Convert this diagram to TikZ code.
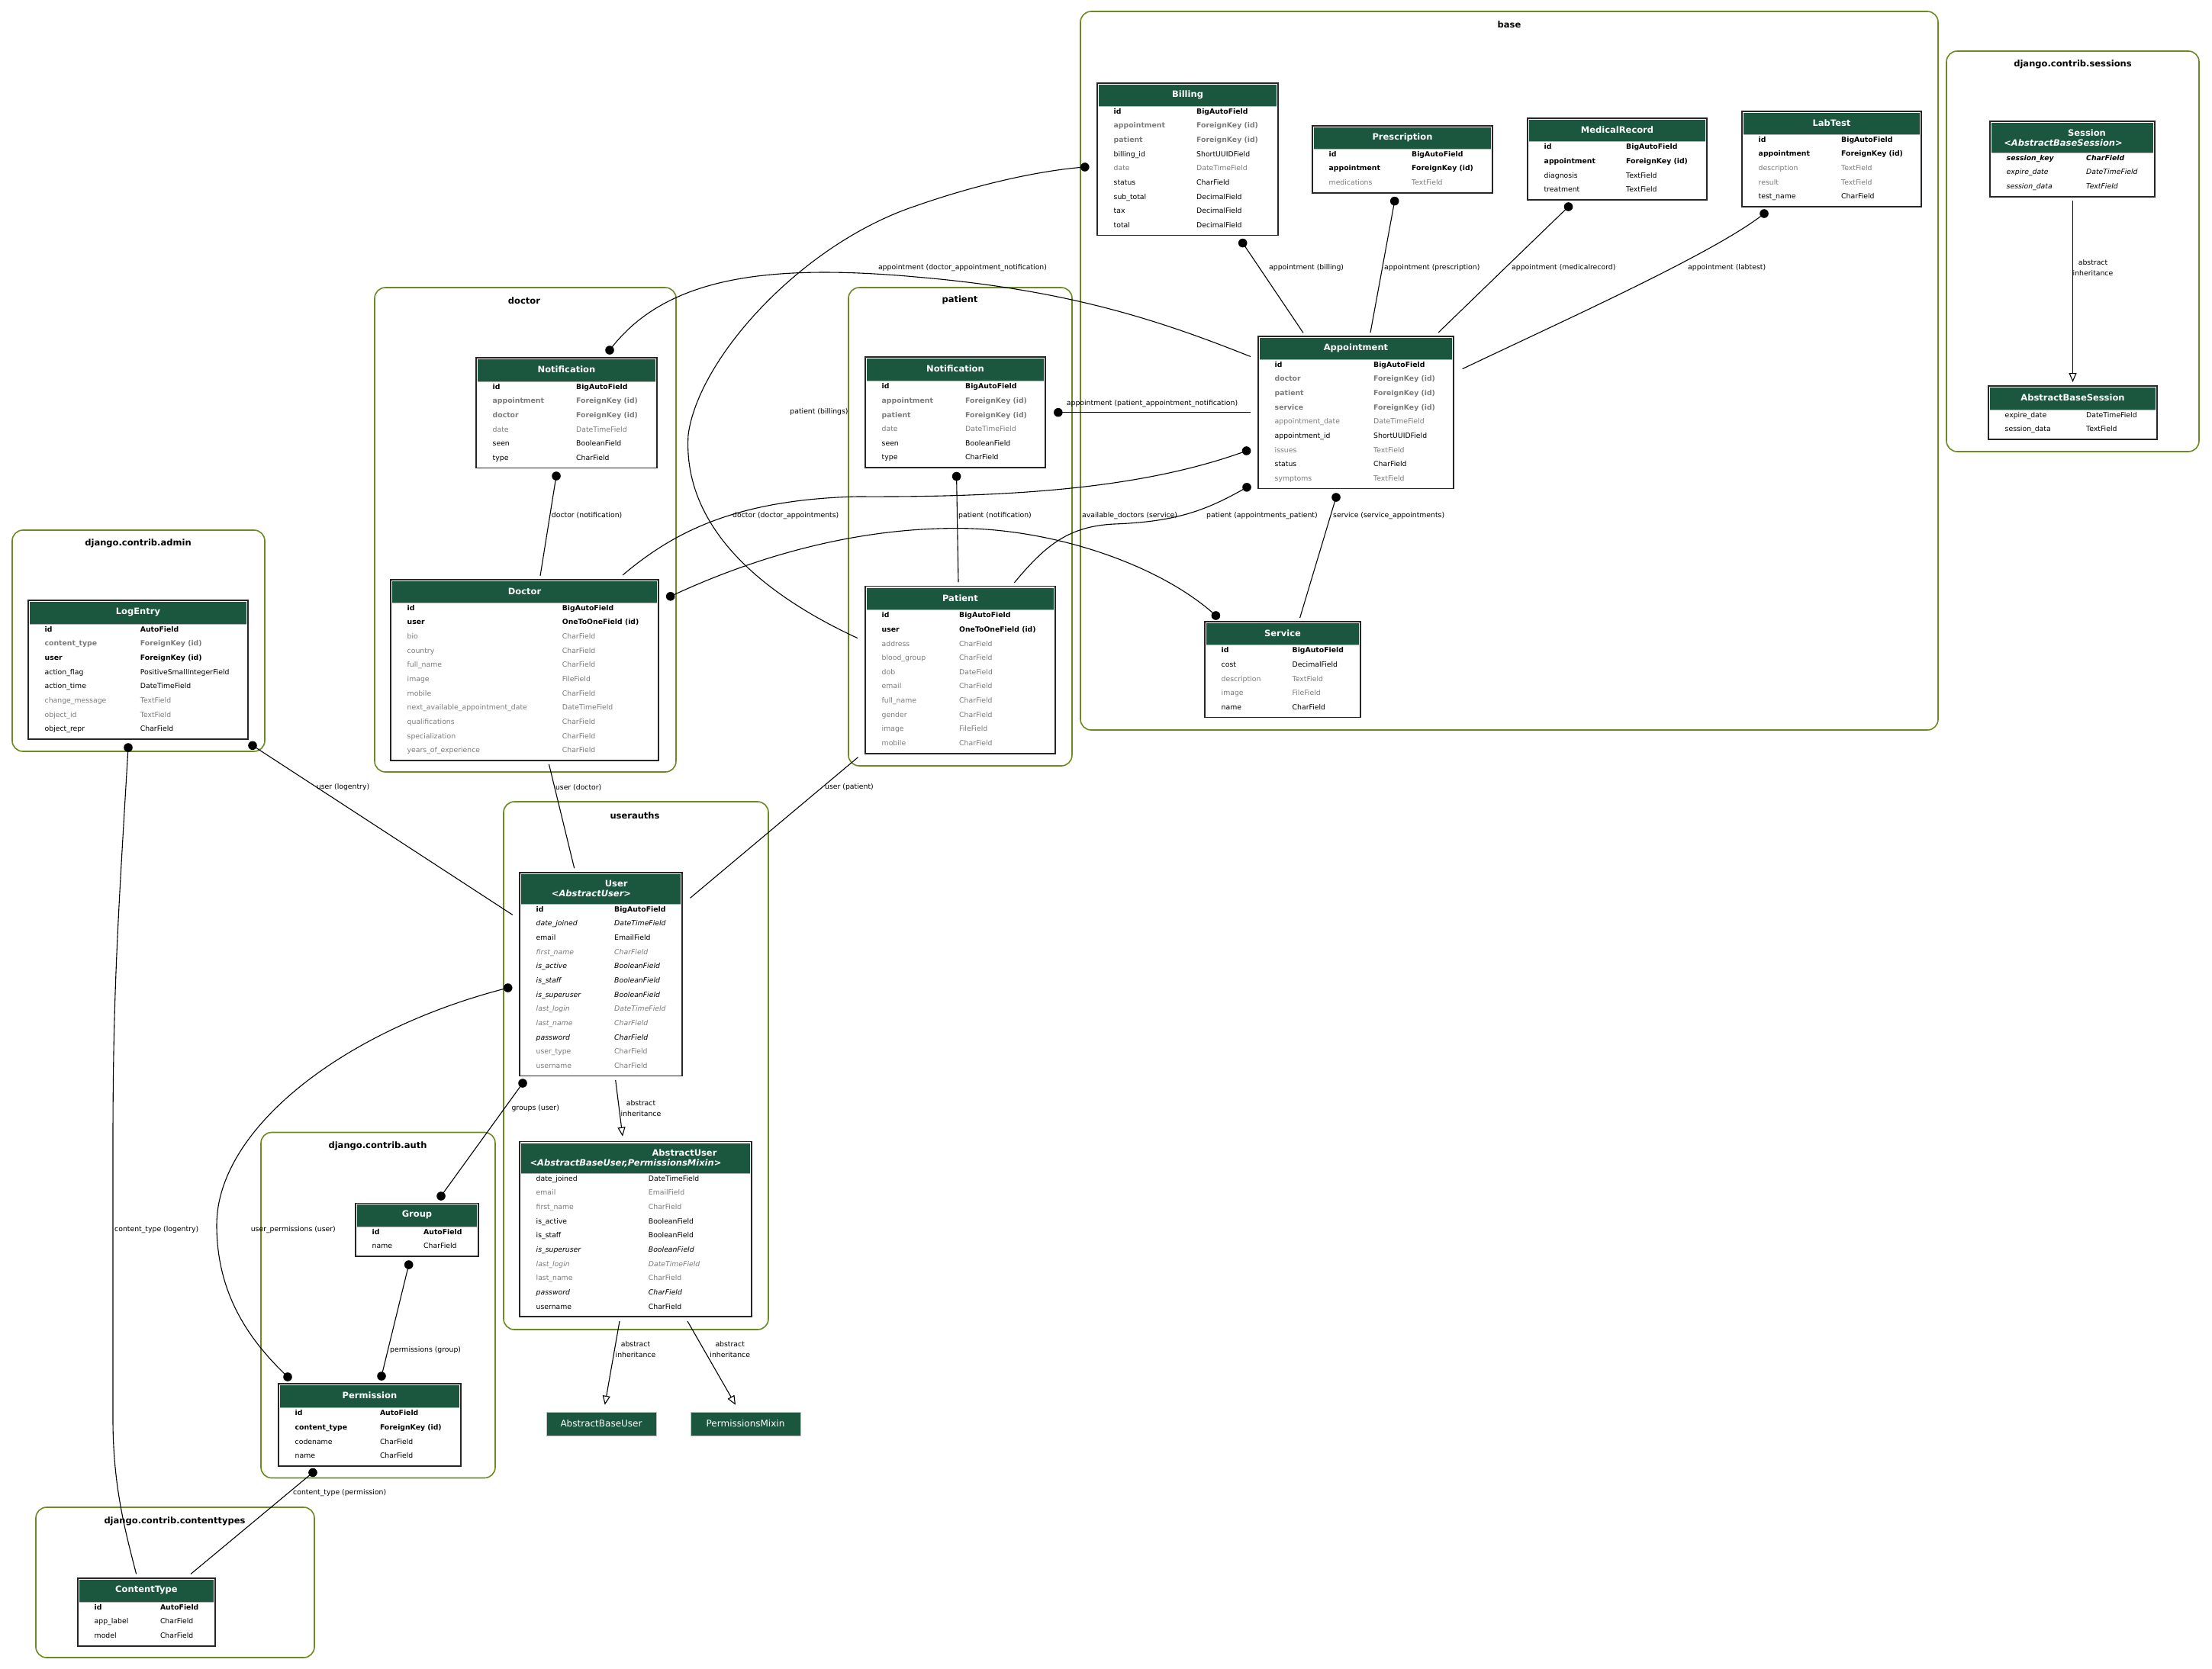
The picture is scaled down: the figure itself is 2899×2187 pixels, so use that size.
\documentclass[tikz,border=0pt]{standalone}
\usepackage{fontspec}
\setmainfont{DejaVu Sans}
\usetikzlibrary{arrows.meta,fit}
\definecolor{hdr}{HTML}{1B563F}
\definecolor{clu}{HTML}{698B22}
\definecolor{fgray}{HTML}{7B7B7B}
\newcommand\fsz{\fontsize{9.3}{11}\selectfont}
\newcommand\zN{}
\newcommand\zG{\color{fgray}}
\newcommand\zB{\bfseries}
\newcommand\zBG{\bfseries\color{fgray}}
\newcommand\zI{\itshape}
\newcommand\zIG{\itshape\color{fgray}}
\newcommand\zBI{\bfseries\itshape}
% #1 name, #2 xl, #3 xr, #4 ytop, #5 header h, #6 type x, #7 n rows, #8 rows, #9 title
\newcommand{\mtab}[9]{%
  \pgfmathsetmacro{\hbot}{#4+#5}%
  \pgfmathsetmacro{\tbot}{#4+#5+18.65*#7+1.75}%
  \node[tblbox, fit={(#2,#4) (#3,\tbot)}] (#1) {};
  \fill[hdr] (#2+2,#4+2) rectangle (#3-2,\hbot);
  \draw[gray!60, line width=0.6pt] (#2+2,\hbot) -- (#3-2,\hbot);
  \node[ttl] at ({(#2+#3)/2},{#4+15.5}) {#9};
  \foreach \st/\fa/\fb [count=\i from 0] in {#8} {
    \pgfmathsetmacro{\yy}{\hbot+7.7+18.65*\i}
    \node[fld] at (#2+21.5,\yy) {\st\fa};
    \node[fld] at (#6,\yy) {\st\fb};
  }
}
\begin{document}
\begin{tikzpicture}[x=1pt,y=-1pt,
  tblbox/.style={draw=black!85, line width=1.6pt, fill=white, inner sep=0pt},
  fld/.style={anchor=west, inner sep=0pt, font=\fsz, text height=7pt, text depth=2pt},
  ttl/.style={text=white, font=\fontsize{11.5}{13}\selectfont\bfseries, inner sep=0pt},
  ttli/.style={text=white, font=\fontsize{11.5}{13}\selectfont\bfseries\itshape, inner sep=0pt},
  clus/.style={draw=clu, line width=1.6pt, rounded corners=14pt, inner sep=0pt},
  cll/.style={font=\fontsize{11.5}{13}\selectfont\bfseries, inner sep=0pt},
  conn/.style={line width=1.1pt, draw=black},
  inh/.style={line width=1.1pt, draw=black, -{Triangle[open,length=12pt,width=10pt]}},
  elab/.style={font=\fsz, inner sep=0pt, anchor=west},
  elabc/.style={font=\fontsize{9.3}{13.5}\selectfont, inner sep=0pt, align=center},
  plainbox/.style={fill=hdr, draw=gray!50, line width=0.8pt, text=white, font=\fontsize{12}{14}\selectfont, inner sep=0pt, minimum width=144pt, minimum height=31pt}
]
\fill[white] (0,0) rectangle (2899,2187);
\useasboundingbox (0,0) rectangle (2899,2187);

% ---------- clusters ----------
\node[clus, fit={(1416,15) (2540,957)}] (clbase) {};
\node[cll] (clbasel) at (1978,32) {base};
\node[clus, fit={(2551,67) (2882,592)}] (clses) {};
\node[cll] (clsesl) at (2716.5,84) {django.contrib.sessions};
\node[clus, fit={(491,377) (886,1012)}] (cldoc) {};
\node[cll] (cldocl) at (687,394) {doctor};
\node[clus, fit={(1112,377) (1405,1004)}] (clpat) {};
\node[cll] (clpatl) at (1258,393) {patient};
\node[clus, fit={(16,695) (347,985)}] (cladm) {};
\node[cll] (cladml) at (181,712) {django.contrib.admin};
\node[clus, fit={(660,1051) (1007,1743)}] (clua) {};
\node[cll] (clual) at (832,1069) {userauths};
\node[clus, fit={(342,1484.5) (649,1937.5)}] (clauth) {};
\node[cll] (clauthl) at (495,1502) {django.contrib.auth};
\node[clus, fit={(47,1976) (412,2173)}] (clct) {};
\node[cll] (clctl) at (229,1994) {django.contrib.contenttypes};

% ---------- tables ----------
\mtab{billing}{1438}{1675}{109}{30}{1568}{9}{\zB/id/BigAutoField, \zBG/appointment/ForeignKey (id), \zBG/patient/ForeignKey (id), \zN/billing\_id/ShortUUIDField, \zG/date/DateTimeField, \zN/status/CharField, \zN/sub\_total/DecimalField, \zN/tax/DecimalField, \zN/total/DecimalField}{Billing}
\mtab{presc}{1720}{1956}{165}{30}{1850}{3}{\zB/id/BigAutoField, \zB/appointment/ForeignKey (id), \zG/medications/TextField}{Prescription}
\mtab{medrec}{2002}{2237}{155}{30.5}{2131}{4}{\zB/id/BigAutoField, \zB/appointment/ForeignKey (id), \zN/diagnosis/TextField, \zN/treatment/TextField}{MedicalRecord}
\mtab{labtest}{2283}{2518}{146}{30}{2413}{5}{\zB/id/BigAutoField, \zB/appointment/ForeignKey (id), \zG/description/TextField, \zG/result/TextField, \zN/test\_name/CharField}{LabTest}
\mtab{appt}{1649}{1905}{441}{30}{1800}{9}{\zB/id/BigAutoField, \zBG/doctor/ForeignKey (id), \zBG/patient/ForeignKey (id), \zBG/service/ForeignKey (id), \zG/appointment\_date/DateTimeField, \zN/appointment\_id/ShortUUIDField, \zG/issues/TextField, \zN/status/CharField, \zG/symptoms/TextField}{Appointment}
\mtab{service}{1579}{1783}{815}{30.5}{1693.5}{5}{\zB/id/BigAutoField, \zN/cost/DecimalField, \zG/description/TextField, \zG/image/FileField, \zN/name/CharField}{Service}
\mtab{session}{2608}{2824}{159}{41}{2734}{3}{\zBI/session\_key/CharField, \zI/expire\_date/DateTimeField, \zI/session\_data/TextField}{}
\node[ttl] (sest1) at (2735,174) {Session};
\node[ttli] (sest2) at (2704,187.5) {<AbstractBaseSession>};
\mtab{abses}{2606}{2827}{506}{31}{2734}{2}{\zN/expire\_date/DateTimeField, \zN/session\_data/TextField}{AbstractBaseSession}
\mtab{dnotif}{624}{861}{469}{31}{755}{6}{\zB/id/BigAutoField, \zBG/appointment/ForeignKey (id), \zBG/doctor/ForeignKey (id), \zG/date/DateTimeField, \zN/seen/BooleanField, \zN/type/CharField}{Notification}
\mtab{doctor}{512}{863}{760}{30}{736.7}{11}{\zB/id/BigAutoField, \zB/user/OneToOneField (id), \zG/bio/CharField, \zG/country/CharField, \zG/full\_name/CharField, \zG/image/FileField, \zG/mobile/CharField, \zG/next\_available\_appointment\_date/DateTimeField, \zG/qualifications/CharField, \zG/specialization/CharField, \zG/years\_of\_experience/CharField}{Doctor}
\mtab{pnotif}{1134}{1370}{468}{31.5}{1265}{6}{\zB/id/BigAutoField, \zBG/appointment/ForeignKey (id), \zBG/patient/ForeignKey (id), \zG/date/DateTimeField, \zN/seen/BooleanField, \zN/type/CharField}{Notification}
\mtab{patient}{1134}{1383}{768.5}{31}{1257}{10}{\zB/id/BigAutoField, \zB/user/OneToOneField (id), \zG/address/CharField, \zG/blood\_group/CharField, \zG/dob/DateField, \zG/email/CharField, \zG/full\_name/CharField, \zG/gender/CharField, \zG/image/FileField, \zG/mobile/CharField}{Patient}
\mtab{logentry}{37}{325}{787}{31}{183.7}{8}{\zB/id/AutoField, \zBG/content\_type/ForeignKey (id), \zB/user/ForeignKey (id), \zN/action\_flag/PositiveSmallIntegerField, \zN/action\_time/DateTimeField, \zG/change\_message/TextField, \zG/object\_id/TextField, \zN/object\_repr/CharField}{LogEntry}
\mtab{user}{681}{894}{1144}{41}{805}{12}{\zB/id/BigAutoField, \zI/date\_joined/DateTimeField, \zN/email/EmailField, \zIG/first\_name/CharField, \zI/is\_active/BooleanField, \zI/is\_staff/BooleanField, \zI/is\_superuser/BooleanField, \zIG/last\_login/DateTimeField, \zIG/last\_name/CharField, \zI/password/CharField, \zG/user\_type/CharField, \zG/username/CharField}{}
\node[ttl] (usrt1) at (807.7,1158.5) {User};
\node[ttli] (usrt2) at (775,1171.5) {<AbstractUser>};
\mtab{absuser}{681}{985}{1496.5}{41.5}{849.7}{10}{\zN/date\_joined/DateTimeField, \zG/email/EmailField, \zG/first\_name/CharField, \zN/is\_active/BooleanField, \zN/is\_staff/BooleanField, \zI/is\_superuser/BooleanField, \zIG/last\_login/DateTimeField, \zG/last\_name/CharField, \zI/password/CharField, \zN/username/CharField}{}
\node[ttl] (aut1) at (897,1511) {AbstractUser};
\node[ttli] (aut2) at (820,1525) {<AbstractBaseUser,PermissionsMixin>};
\mtab{group}{466}{627}{1577.4}{30.6}{555}{2}{\zB/id/AutoField, \zN/name/CharField}{Group}
\mtab{perm}{365}{604}{1814}{31.5}{497.8}{4}{\zB/id/AutoField, \zB/content\_type/ForeignKey (id), \zN/codename/CharField, \zN/name/CharField}{Permission}
\mtab{ctype}{102}{282}{2069}{31}{209.8}{3}{\zB/id/AutoField, \zN/app\_label/CharField, \zN/model/CharField}{ContentType}
\node[plainbox] (abu) at (788,1866.5) {AbstractBaseUser};
\node[plainbox] (pmx) at (977,1866.5) {PermissionsMixin};

% ---------- connector end points ----------
\coordinate (bil-d) at (1628.7,318.6); \coordinate (ap-t1) at (1708,436.4);
\coordinate (pre-d) at (1827.7,263.6); \coordinate (ap-t2) at (1796,436);
\coordinate (med-d) at (2055.5,271);   \coordinate (ap-t3) at (1885,436);
\coordinate (lab-d) at (2312,280);     \coordinate (ap-r) at (1916.6,483.6);
\coordinate (ap-l1) at (1639,467.5);   \coordinate (dn-t) at (799,459);
\coordinate (ap-l2) at (1639,540.7);   \coordinate (pn-r) at (1386.8,540.7);
\coordinate (doc-t2) at (816,754);     \coordinate (ap-d1) at (1633.6,591);
\coordinate (pat-t2) at (1329.4,763.8);\coordinate (ap-d2) at (1634,638.8);
\coordinate (svc-t) at (1703.6,810);   \coordinate (ap-d3) at (1751,652);
\coordinate (doc-d) at (878.7,781.8);  \coordinate (svc-d) at (1593.4,807);
\coordinate (pat-l) at (1124,836.6);   \coordinate (bil-dl) at (1421.8,219);
\coordinate (dn-d) at (729,624);       \coordinate (doc-t1) at (708,755);
\coordinate (pn-d) at (1253.6,624.5);  \coordinate (pat-t1) at (1256,763);
\coordinate (log-d2) at (331,977.3);   \coordinate (usr-l1) at (671.7,1199.3);
\coordinate (doc-b) at (719.5,1002);   \coordinate (usr-t) at (752.7,1138.3);
\coordinate (pat-b) at (1124.5,992.7); \coordinate (usr-r) at (904.5,1177.3);
\coordinate (usr-d1) at (685,1420);    \coordinate (grp-d1) at (578,1568);
\coordinate (usr-d2) at (665.7,1295);  \coordinate (perm-d1) at (377,1805);
\coordinate (grp-d2) at (535.7,1658);  \coordinate (perm-d2) at (500,1804);
\coordinate (perm-d3) at (410,1930.4); \coordinate (ct-t2) at (250,2063.5);
\coordinate (log-d1) at (168,980);     \coordinate (ct-t1) at (178.6,2063.5);
\coordinate (usr-b) at (806.7,1416);   \coordinate (au-t) at (816,1489.7);
\coordinate (au-b1) at (812,1732);     \coordinate (abu-t) at (792.7,1841.7);
\coordinate (au-b2) at (901,1732);     \coordinate (pm-t) at (964,1841.7);
\coordinate (ses-b) at (2716.5,263);   \coordinate (abs-t) at (2716.5,501);

% ---------- connectors ----------
\draw[conn] (bil-d) -- (ap-t1);
\draw[conn] (pre-d) -- (ap-t2);
\draw[conn] (med-d) -- (ap-t3);
\draw[conn] (lab-d) .. controls (2250,330) and (2050,420) .. (ap-r);
\draw[conn] (ap-l1) .. controls (1520,420) and (1400,380) .. (1200,363) .. controls (1000,345) and (870,365) .. (dn-t);
\draw[conn] (ap-l2) -- (pn-r);
\draw[conn] (doc-t2) .. controls (880,700) and (960,655) .. (1124,651) .. controls (1330,652) and (1500,640) .. (ap-d1);
\draw[conn] (pat-t2) .. controls (1370,715) and (1400,690) .. (1460,687) .. controls (1540,684) and (1580,670) .. (ap-d2);
\draw[conn] (svc-t) -- (ap-d3);
\draw[conn] (doc-d) .. controls (1000,725) and (1130,692) .. (1256.5,692.6) .. controls (1380,693) and (1520,740) .. (svc-d);
\draw[conn] (pat-l) .. controls (980,770) and (895,680) .. (902,570) .. controls (915,470) and (1050,320) .. (1200,270) .. controls (1300,235) and (1380,222) .. (bil-dl);
\draw[conn] (dn-d) -- (doc-t1);
\draw[conn] (pn-d) -- (pat-t1);
\draw[conn] (log-d2) -- (usr-l1);
\draw[conn] (doc-b) -- (usr-t);
\draw[conn] (pat-b) -- (usr-r);
\draw[conn] (usr-d1) -- (grp-d1);
\draw[conn] (usr-d2) .. controls (450,1350) and (284,1480) .. (284,1606) .. controls (284,1700) and (330,1760) .. (perm-d1);
\draw[conn] (grp-d2) -- (perm-d2);
\draw[conn] (perm-d3) -- (ct-t2);
\draw[conn] (log-d1) .. controls (155,1200) and (148,1300) .. (148,1500) -- (148,1860) .. controls (148,1950) and (165,2010) .. (ct-t1);
\draw[inh] (usr-b) -- (au-t);
\draw[inh] (au-b1) -- (abu-t);
\draw[inh] (au-b2) -- (pm-t);
\draw[inh] (ses-b) -- (abs-t);

% ---------- dots ----------
\foreach \c in {bil-d,pre-d,med-d,lab-d,dn-t,pn-r,ap-d1,ap-d2,ap-d3,doc-d,svc-d,bil-dl,dn-d,pn-d,log-d1,log-d2,usr-d1,usr-d2,grp-d1,grp-d2,perm-d1,perm-d2,perm-d3}
  \fill (\c) circle[radius=5.8];

% ---------- labels ----------
\node[elab] (l1) at (1663,351.4) {appointment (billing)};
\node[elab] (l2) at (1814,351.4) {appointment (prescription)};
\node[elab] (l3) at (1981,351.4) {appointment (medicalrecord)};
\node[elab] (l4) at (2212,351.4) {appointment (labtest)};
\node[elabc] (l5) at (2743,351) {abstract\\inheritance};
\node[elab, anchor=center] (l6) at (1261.5,351) {appointment (doctor\_appointment\_notification)};
\node[elab, anchor=center] (l7) at (1510,529) {appointment (patient\_appointment\_notification)};
\node[elab] (l8) at (960,676) {doctor (doctor\_appointments)};
\node[elab] (l9) at (1581,676) {patient (appointments\_patient)};
\node[elab] (l10) at (1747,676) {service (service\_appointments)};
\node[elab] (l11) at (1418,676) {available\_doctors (service)};
\node[elab, anchor=east] (l12) at (1111.8,540) {patient (billings)};
\node[elab] (l13) at (722.7,675.7) {doctor (notification)};
\node[elab] (l14) at (1256,676) {patient (notification)};
\node[elab] (l15) at (414.7,1032.3) {user (logentry)};
\node[elab] (l16) at (727.8,1032.3) {user (doctor)};
\node[elab] (l17) at (1081,1032.3) {user (patient)};
\node[elab, anchor=center] (l18) at (701.7,1453) {groups (user)};
\node[elab] (l19) at (328.6,1612) {user\_permissions (user)};
\node[elab] (l20) at (150,1612) {content\_type (logentry)};
\node[elab] (l21) at (511,1770.4) {permissions (group)};
\node[elab] (l22) at (384,1957.3) {content\_type (permission)};
\node[elabc] (l23) at (840,1453) {abstract\\inheritance};
\node[elabc] (l24) at (833,1769) {abstract\\inheritance};
\node[elabc] (l25) at (956.7,1769) {abstract\\inheritance};
\end{tikzpicture}
\end{document}
